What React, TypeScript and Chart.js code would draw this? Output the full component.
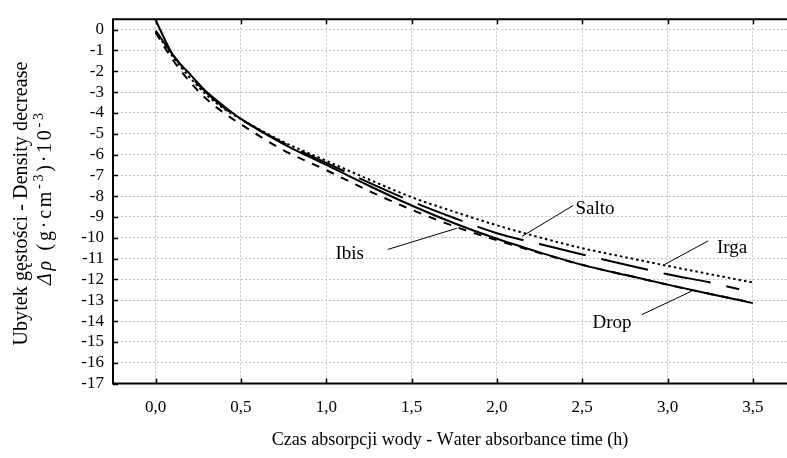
import React, { useEffect, useRef } from "react";
import { Chart, registerables } from "chart.js";

Chart.register(...registerables);

const TIME = [0, 0.1, 0.2, 0.3, 0.4, 0.5, 0.75, 1.0, 1.25, 1.5, 1.75, 2.0, 2.25, 2.5, 2.75, 3.0, 3.25, 3.5];
const TIME_SALTO = [0, 0.1, 0.2, 0.3, 0.4, 0.5, 0.75, 1.0, 1.25, 1.5, 1.75, 2.0, 2.25, 2.5, 2.75, 3.0, 3.25, 3.42];

const DROP = [0.45, -1.2, -2.13, -3.0, -3.68, -4.29, -5.5, -6.5, -7.5, -8.45, -9.3, -10.05, -10.7, -11.3, -11.78, -12.25, -12.7, -13.14];
const IRGA = [-0.1, -1.3, -2.3, -3.15, -3.8, -4.3, -5.4, -6.3, -7.2, -8.05, -8.75, -9.4, -9.98, -10.5, -10.93, -11.35, -11.75, -12.15];
const SALTO = [-0.05, -1.2, -2.2, -3.05, -3.75, -4.3, -5.45, -6.4, -7.35, -8.25, -9.05, -9.78, -10.3, -10.8, -11.28, -11.75, -12.15, -12.47];
const IBIS = [-0.15, -1.45, -2.5, -3.35, -4.0, -4.55, -5.8, -6.75, -7.75, -8.65, -9.45, -10.12, -10.73, -11.3, -11.78, -12.25, -12.7, -13.12];

const X_TICKS = [0, 0.5, 1.0, 1.5, 2.0, 2.5, 3.0, 3.5];
const Y_TICKS = [0, -1, -2, -3, -4, -5, -6, -7, -8, -9, -10, -11, -12, -13, -14, -15, -16, -17];

// series labels with leader lines (data coordinates)
const LABEL_NAMES = ["Salto", "Irga", "Drop", "Ibis"];
const LABEL_POS = [
  [2.46, -8.6],
  [3.29, -10.48],
  [2.56, -14.08],
  [1.054, -10.8],
];
const LEADERS = [
  [2.447, -8.45, 2.147, -9.93],
  [3.238, -10.15, 2.986, -11.27],
  [2.85, -13.69, 3.142, -12.56],
  [1.36, -10.56, 1.766, -9.54],
];

const X_TITLE = "Czas absorpcji wody - Water absorbance time (h)";
const Y_TITLE_1 = "Ubytek gęstości - Density decrease";

const FONT = '"Liberation Serif", "Times New Roman", serif';

const pts = (xs: number[], ys: number[]) => xs.map((x, i) => ({ x, y: ys[i] }));

type Seg = { t: string; f: string; dy: number };

// draws segments char by char, spread so that total length = target, centred at 0
function drawFitted(ctx: CanvasRenderingContext2D, segs: Seg[], target: number) {
  let natural = 0;
  let count = 0;
  segs.forEach((s) => {
    ctx.font = s.f;
    for (const ch of s.t) {
      natural += ctx.measureText(ch).width;
      count++;
    }
  });
  const gap = count > 1 ? Math.max(0, (target - natural) / (count - 1)) : 0;
  let x = -(natural + gap * (count - 1)) / 2;
  ctx.textAlign = "left";
  segs.forEach((s) => {
    ctx.font = s.f;
    for (const ch of s.t) {
      ctx.fillText(ch, x, s.dy);
      x += ctx.measureText(ch).width + gap;
    }
  });
}

export default function App() {
  const ref = useRef<HTMLCanvasElement | null>(null);

  useEffect(() => {
    if (!ref.current) return;

    const decor = {
      id: "decor",
      afterDatasetsDraw(chart: any) {
        const { ctx, chartArea: a, scales } = chart;
        const xs = scales.x;
        const ys = scales.y;
        ctx.save();
        // frame
        ctx.strokeStyle = "#000";
        ctx.lineWidth = 2;
        ctx.beginPath();
        ctx.moveTo(a.right + 2, a.top);
        ctx.lineTo(a.left, a.top);
        ctx.lineTo(a.left, a.bottom);
        ctx.lineTo(a.right + 2, a.bottom);
        ctx.stroke();
        // inward ticks
        ctx.lineWidth = 1.5;
        ctx.beginPath();
        X_TICKS.forEach((v) => {
          const px = Math.round(xs.getPixelForValue(v)) + 0.5;
          ctx.moveTo(px, a.bottom);
          ctx.lineTo(px, a.bottom - 5);
          ctx.moveTo(px, a.top);
          ctx.lineTo(px, a.top + 5);
        });
        Y_TICKS.forEach((v) => {
          const py = Math.round(ys.getPixelForValue(v)) + 0.5;
          ctx.moveTo(a.left, py);
          ctx.lineTo(a.left + 5, py);
        });
        ctx.stroke();

        // leaders
        ctx.lineWidth = 1;
        ctx.beginPath();
        LEADERS.forEach((l) => {
          ctx.moveTo(xs.getPixelForValue(l[0]), ys.getPixelForValue(l[1]));
          ctx.lineTo(xs.getPixelForValue(l[2]), ys.getPixelForValue(l[3]));
        });
        ctx.stroke();
        ctx.fillStyle = "#000";
        ctx.font = `19px ${FONT}`;
        ctx.textAlign = "left";
        ctx.textBaseline = "middle";
        LABEL_NAMES.forEach((n, i) => {
          ctx.fillText(n, xs.getPixelForValue(LABEL_POS[i][0]), ys.getPixelForValue(LABEL_POS[i][1]));
        });

        // x title
        ctx.save();
        ctx.translate(450, 440);
        drawFitted(ctx, [{ t: X_TITLE, f: `18px ${FONT}`, dy: 0 }], 355);
        ctx.restore();

        // y title line 1
        ctx.save();
        ctx.translate(22, 203.5);
        ctx.rotate(-Math.PI / 2);
        drawFitted(ctx, [{ t: Y_TITLE_1, f: `20px ${FONT}`, dy: 0 }], 284);
        ctx.restore();

        // y title line 2
        ctx.save();
        ctx.translate(46, 199);
        ctx.rotate(-Math.PI / 2);
        drawFitted(
          ctx,
          [
            { t: "Δρ", f: `italic 20px ${FONT}`, dy: 0 },
            { t: " (g·cm", f: `20px ${FONT}`, dy: 0 },
            { t: "-3", f: `14px ${FONT}`, dy: -7 },
            { t: ")·10", f: `20px ${FONT}`, dy: 0 },
            { t: "-3", f: `14px ${FONT}`, dy: -7 },
          ],
          172
        );
        ctx.restore();

        ctx.restore();
      },
    };

    const common = {
      borderColor: "#000",
      backgroundColor: "#000",
      borderWidth: 2,
      pointRadius: 0,
      fill: false,
      cubicInterpolationMode: "monotone" as const,
    };

    const chart = new Chart(ref.current, {
      type: "line",
      data: {
        datasets: [
          { ...common, label: "Drop", data: pts(TIME, DROP) },
          { ...common, label: "Irga", data: pts(TIME, IRGA), borderDash: [2.5, 3] },
          { ...common, label: "Salto", data: pts(TIME_SALTO, SALTO), borderDash: [48, 16] },
          { ...common, label: "Ibis", data: pts(TIME, IBIS), borderDash: [8, 8] },
        ],
      },
      options: {
        responsive: false,
        animation: false,
        devicePixelRatio: 1,
        layout: { padding: { top: 11, left: 0, right: 0, bottom: 0 } },
        plugins: { legend: { display: false }, tooltip: { enabled: false } },
        scales: {
          x: {
            type: "linear",
            min: -0.25,
            max: 3.7,
            afterBuildTicks: (s: any) => {
              s.ticks = X_TICKS.map((v) => ({ value: v }));
            },
            afterFit: (s: any) => {
              s.height = 74.5;
            },
            grid: { color: "#c4c4c4", lineWidth: 1, drawTicks: false },
            border: { display: false, dash: [2, 2] },
            ticks: {
              padding: 14,
              color: "#000",
              font: { family: FONT, size: 17 },
              maxRotation: 0,
              autoSkip: false,
              callback: (v: any) => Number(v).toFixed(1).replace(".", ","),
            },
          },
          y: {
            type: "linear",
            min: -17,
            max: 0.5,
            afterBuildTicks: (s: any) => {
              s.ticks = Y_TICKS.map((v) => ({ value: v }));
            },
            afterFit: (s: any) => {
              s.width = 113;
            },
            grid: { color: "#c4c4c4", lineWidth: 1, drawTicks: false },
            border: { display: false, dash: [2, 2] },
            ticks: {
              padding: 9,
              color: "#000",
              font: { family: FONT, size: 17 },
              autoSkip: false,
              callback: (v: any) => String(v),
            },
          },
        },
      },
      plugins: [decor],
    });

    return () => chart.destroy();
  }, []);

  return (
    <div style={{ position: "absolute", left: 0, top: 0, width: 787, height: 458, background: "#fff", overflow: "hidden" }}>
      <canvas ref={ref} width={787} height={458} style={{ display: "block" }} />
    </div>
  );
}
